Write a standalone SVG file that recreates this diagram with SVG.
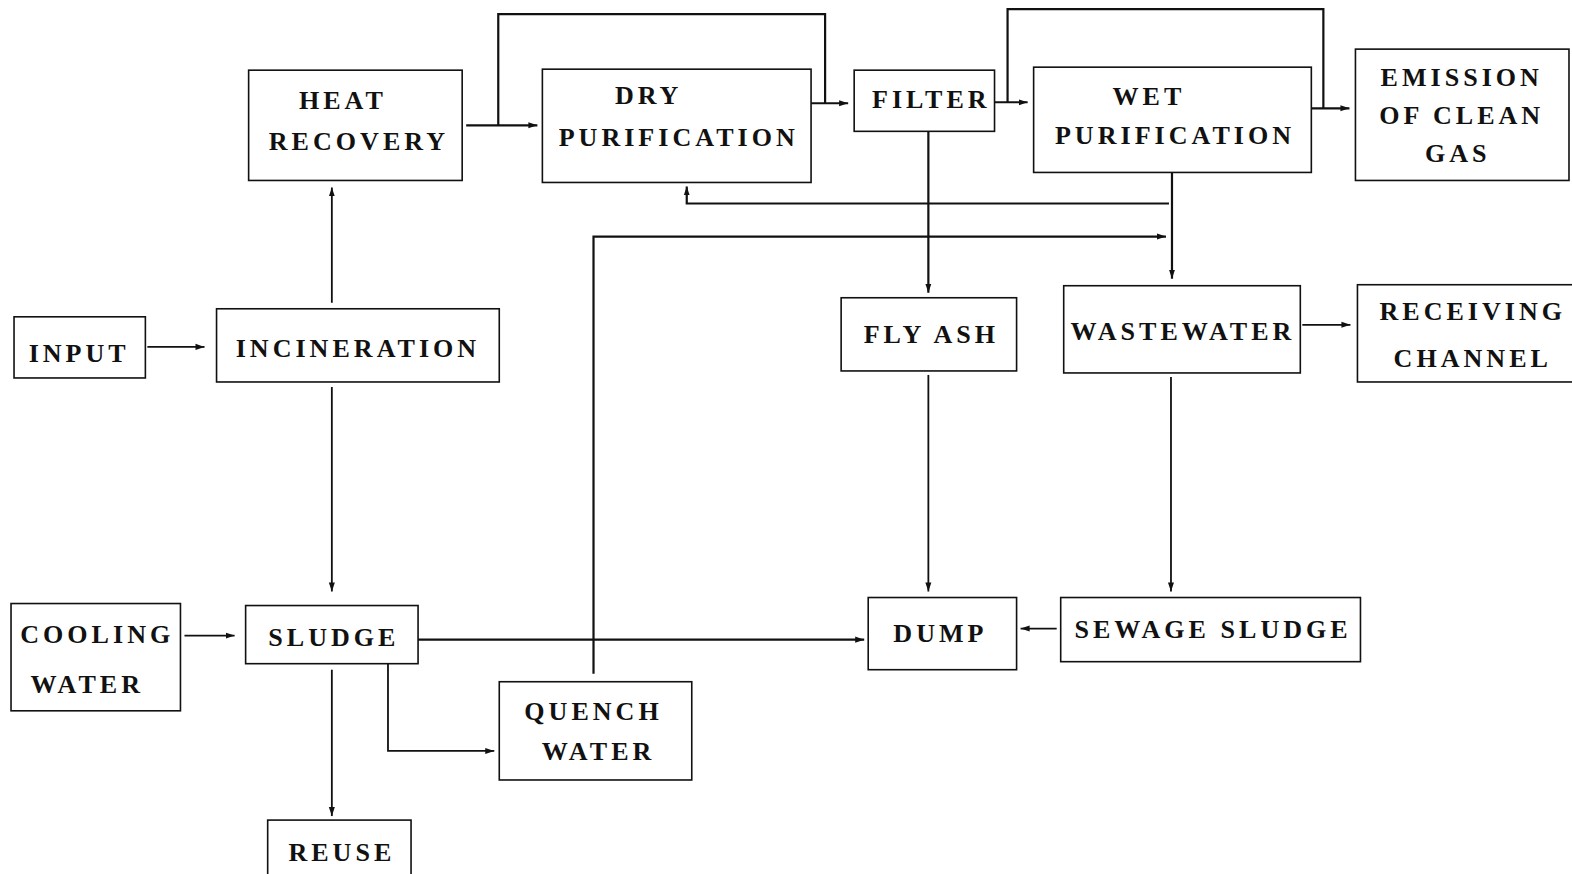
<svg xmlns="http://www.w3.org/2000/svg" width="1572" height="874" viewBox="0 0 1572 874">
<defs>
<style>
.box{fill:#fff;stroke:#111;stroke-width:1.6}
.lbl{font-family:"Liberation Serif","Times New Roman",serif;font-weight:bold;font-size:26px;letter-spacing:4px;fill:#111;text-anchor:middle}
.con{fill:none;stroke:#111;stroke-width:2.2}
.thin{fill:none;stroke:#111;stroke-width:1.8}
</style>
<marker id="ah" markerUnits="userSpaceOnUse" markerWidth="10" markerHeight="8" refX="9" refY="4" orient="auto">
<path d="M0,1 L9,4 L0,7 z" fill="#111"/>
</marker>
</defs>
<rect width="1572" height="874" fill="#fff"/>
<g transform="scale(1.00255)">
<g id="connectors">
<path class="con" d="M465,125 H536" marker-end="url(#ah)"/>
<path class="con" d="M497,125 V14 H823 V103"/>
<path class="con" d="M809,103 H846" marker-end="url(#ah)"/>
<path class="con" d="M992,102 H1025" marker-end="url(#ah)"/>
<path class="con" d="M1005,102 V9 H1320 V108"/>
<path class="con" d="M1308,108 H1346" marker-end="url(#ah)"/>
<path class="thin" d="M331,302 V187" marker-end="url(#ah)"/>
<path class="thin" d="M147,346 H204" marker-end="url(#ah)"/>
<path class="thin" d="M331,386 V590" marker-end="url(#ah)"/>
<path class="thin" d="M184,634 H234" marker-end="url(#ah)"/>
<path class="con" d="M417,638 H862" marker-end="url(#ah)"/>
<path class="thin" d="M331,668 V814" marker-end="url(#ah)"/>
<path class="thin" d="M387,662 V749 H493" marker-end="url(#ah)"/>
<path class="con" d="M592,672 V236 H1163" marker-end="url(#ah)"/>
<path class="con" d="M926,131 V292" marker-end="url(#ah)"/>
<path class="con" d="M1169,172 V278" marker-end="url(#ah)"/>
<path class="con" d="M1166,203 H685 V186" marker-end="url(#ah)"/>
<path class="thin" d="M926,374 V590" marker-end="url(#ah)"/>
<path class="thin" d="M1168,376 V590" marker-end="url(#ah)"/>
<path class="thin" d="M1054,627 H1018" marker-end="url(#ah)"/>
<path class="thin" d="M1299,324 H1347" marker-end="url(#ah)"/>
</g>
<g id="heat-recovery"><rect class="box" x="248" y="70" width="213" height="110"/><text class="lbl" x="342" y="109">HEAT</text><text class="lbl" x="358" y="150">RECOVERY</text></g>
<g id="dry-purification"><rect class="box" x="541" y="69" width="268" height="113"/><text class="lbl" x="647" y="104">DRY</text><text class="lbl" x="677" y="146">PURIFICATION</text></g>
<g id="filter"><rect class="box" x="852" y="70" width="140" height="61"/><text class="lbl" x="929" y="108">FILTER</text></g>
<g id="wet-purification"><rect class="box" x="1031" y="67" width="277" height="105"/><text class="lbl" x="1146" y="105">WET</text><text class="lbl" x="1172" y="144">PURIFICATION</text></g>
<g id="emission"><rect class="box" x="1352" y="49" width="213" height="131"/><text class="lbl" x="1458" y="86">EMISSION</text><text class="lbl" x="1458" y="124">OF CLEAN</text><text class="lbl" x="1454" y="162">GAS</text></g>
<g id="input"><rect class="box" x="14" y="316" width="131" height="61"/><text class="lbl" x="79" y="361">INPUT</text></g>
<g id="incineration"><rect class="box" x="216" y="308" width="282" height="73"/><text class="lbl" x="357" y="356">INCINERATION</text></g>
<g id="fly-ash"><rect class="box" x="839" y="297" width="175" height="73"/><text class="lbl" x="929" y="342">FLY ASH</text></g>
<g id="wastewater"><rect class="box" x="1061" y="285" width="236" height="87"/><text class="lbl" x="1180" y="339">WASTEWATER</text></g>
<g id="receiving-channel"><rect class="box" x="1354" y="284" width="216" height="97"/><text class="lbl" x="1469" y="319">RECEIVING</text><text class="lbl" x="1469" y="366">CHANNEL</text></g>
<g id="cooling-water"><rect class="box" x="11" y="602" width="169" height="107"/><text class="lbl" x="97" y="641">COOLING</text><text class="lbl" x="87" y="691">WATER</text></g>
<g id="sludge"><rect class="box" x="245" y="604" width="172" height="58"/><text class="lbl" x="333" y="644">SLUDGE</text></g>
<g id="quench-water"><rect class="box" x="498" y="680" width="192" height="98"/><text class="lbl" x="592" y="718">QUENCH</text><text class="lbl" x="597" y="758">WATER</text></g>
<g id="dump"><rect class="box" x="866" y="596" width="148" height="72"/><text class="lbl" x="938" y="640">DUMP</text></g>
<g id="sewage-sludge"><rect class="box" x="1058" y="596" width="299" height="64"/><text class="lbl" x="1210" y="636">SEWAGE SLUDGE</text></g>
<g id="reuse"><rect class="box" x="267" y="818" width="143" height="70"/><text class="lbl" x="341" y="859">REUSE</text></g>
</g>
</svg>
